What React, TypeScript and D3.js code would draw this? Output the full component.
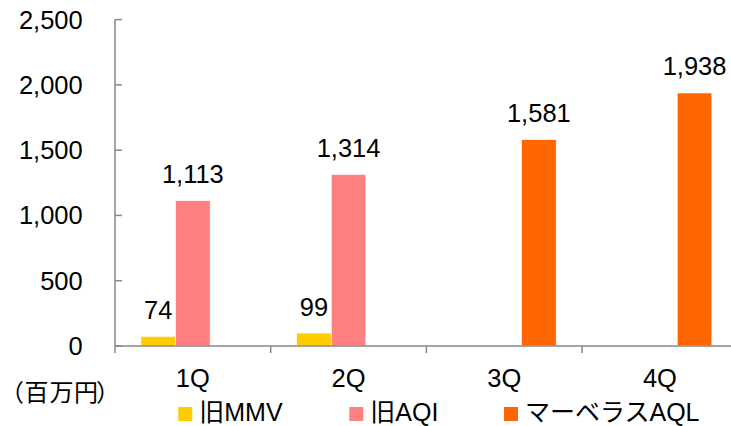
import React from "react";
import * as d3 from "d3";

const categories = ["1Q", "2Q", "3Q", "4Q"];
const seriesNames = ["旧MMV", "旧AQI", "マーベラスAQL"];
const seriesColors = ["#FFCC00", "#FF8080", "#FF6600"];
const mmv: (number | null)[] = [74, 99, null, null];
const aqi: (number | null)[] = [1113, 1314, null, null];
const aql: (number | null)[] = [null, null, 1581, 1938];
const yTicks = [0, 500, 1000, 1500, 2000, 2500];
const unitLabel = "（百万円）";

const W = 731;
const H = 426;
const left = 115;
const right = 737.8;
const top = 19.6;
const bottom = 346;
const font = "'Liberation Sans', Arial, 'Noto Sans CJK JP', sans-serif";
const cjkFont = "'Noto Sans CJK JP', 'Liberation Sans', sans-serif";

export default function App() {
  const series = [mmv, aqi, aql];
  const x = d3.scaleBand<string>().domain(categories).range([left, right]).padding(0);
  const inner = d3
    .scaleBand<string>()
    .domain(seriesNames)
    .range([0, x.bandwidth()])
    .paddingInner(0)
    .paddingOuter(0.75);
  const y = d3.scaleLinear().domain([0, 2500]).range([bottom, top]);
  const fmt = d3.format(",");
  const axisColor = "#888888";

  const legendX = [178.3, 349.3, 504];
  const unitCharX = [0, 24.5, 49.5, 74, 96];

  return (
    <svg
      width={W}
      height={H}
      style={{ position: "absolute", left: 0, top: 0, background: "#fff" }}
    >
      {series.map((vals, si) =>
        vals.map((v, ci) =>
          v == null ? null : (
            <g key={`b${si}-${ci}`}>
              <rect
                x={(x(categories[ci]) as number) + (inner(seriesNames[si]) as number)}
                y={y(v)}
                width={inner.bandwidth()}
                height={y(0) - y(v)}
                fill={seriesColors[si]}
                stroke="#ffffff"
                strokeWidth={0.6}
              />
              <text
                x={(x(categories[ci]) as number) + (inner(seriesNames[si]) as number) + inner.bandwidth() / 2}
                y={y(v) - 17.5}
                textAnchor="middle"
                fontFamily={font}
                fontSize={25.5}
                fill="#000"
              >
                {fmt(v)}
              </text>
            </g>
          )
        )
      )}

      <line x1={left} x2={left} y1={top} y2={bottom + 7} stroke={axisColor} strokeWidth={1.5} />
      {yTicks.map((t) => (
        <g key={`yt${t}`}>
          <line x1={left} x2={left + 7} y1={y(t)} y2={y(t)} stroke={axisColor} strokeWidth={1.5} />
          <text
            x={82.7}
            y={y(t) + 9}
            textAnchor="end"
            fontFamily={font}
            fontSize={25.5}
            fill="#000"
          >
            {fmt(t)}
          </text>
        </g>
      ))}

      <line x1={left} x2={right} y1={bottom} y2={bottom} stroke={axisColor} strokeWidth={1.5} />
      {categories.map((c, i) => (
        <g key={`xt${c}`}>
          {i > 0 && (
            <line
              x1={x(c) as number}
              x2={x(c) as number}
              y1={bottom}
              y2={bottom + 7}
              stroke={axisColor}
              strokeWidth={1.5}
            />
          )}
          <text
            x={(x(c) as number) + x.bandwidth() / 2}
            y={386.5}
            textAnchor="middle"
            fontFamily={font}
            fontSize={25.5}
            fill="#000"
          >
            {c}
          </text>
        </g>
      ))}

      <text
        x={unitCharX.join(" ")}
        y={401}
        fontFamily={cjkFont}
        fontSize={24}
        fill="#000"
      >
        {unitLabel}
      </text>

      {seriesNames.map((n, i) => (
        <g key={`lg${i}`}>
          <rect x={legendX[i]} y={407} width={14} height={14} fill={seriesColors[i]} />
          <text x={legendX[i] + 21} y={421} fontFamily={font} fontSize={25} fill="#000">
            {n}
          </text>
        </g>
      ))}
    </svg>
  );
}
